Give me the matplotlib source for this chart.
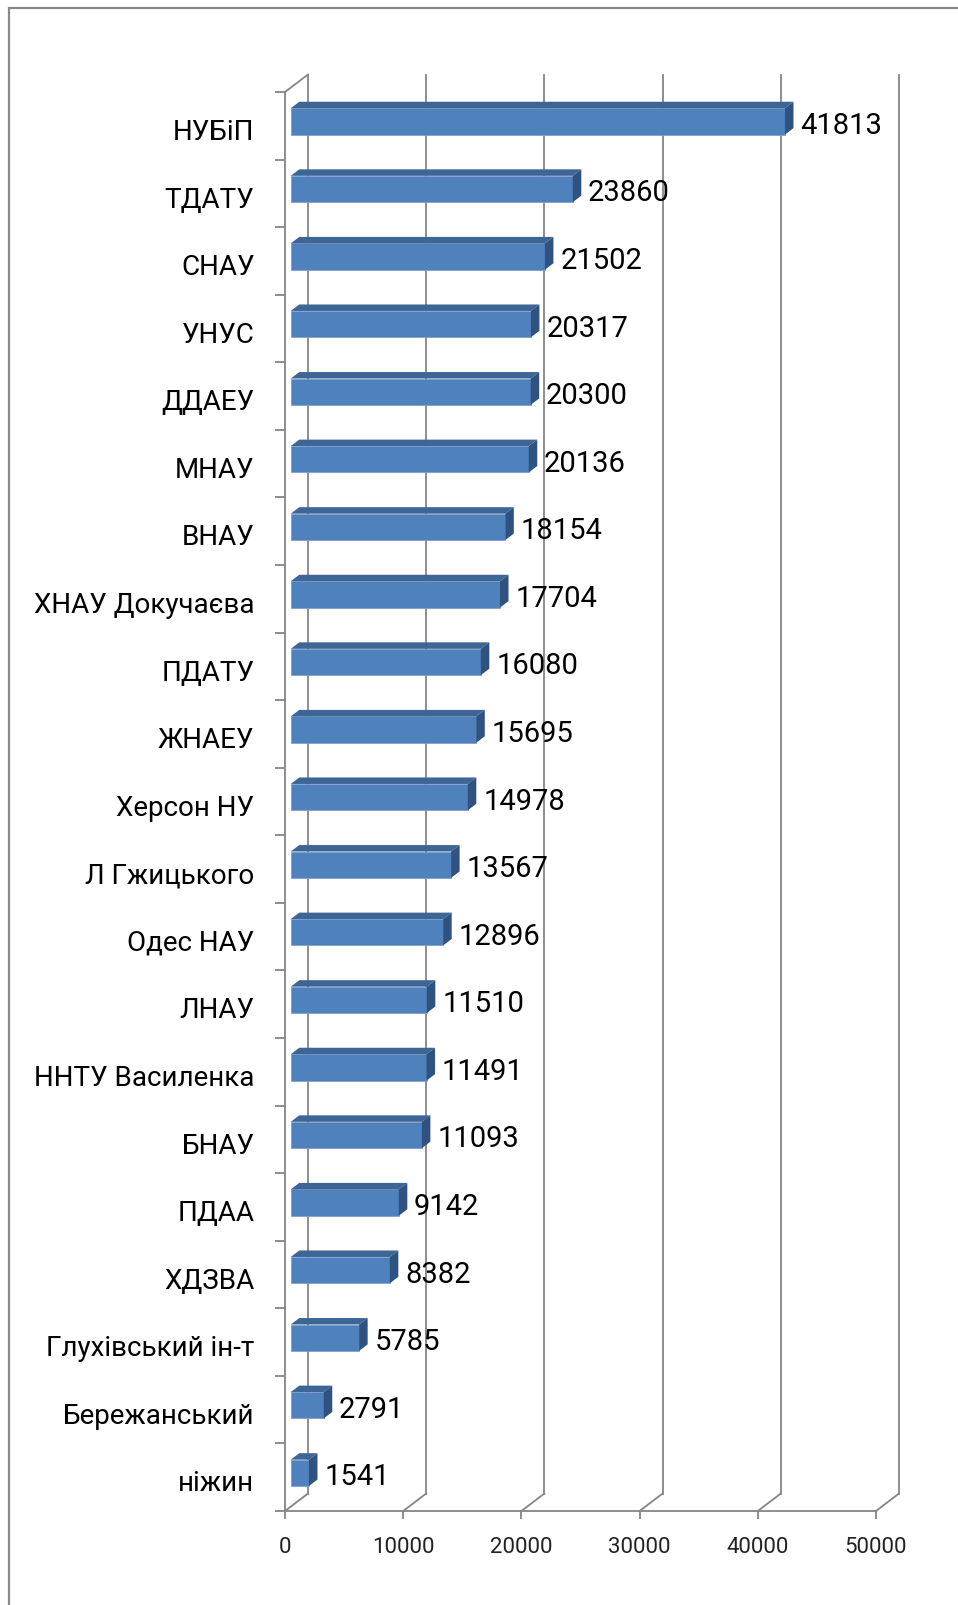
import numpy as np
import matplotlib.pyplot as plt
import matplotlib.transforms as mtransforms
from matplotlib.patches import Polygon, Rectangle

# data
categories = ["НУБіП", "ТДАТУ", "СНАУ", "УНУС", "ДДАЕУ", "МНАУ", "ВНАУ",
              "ХНАУ Докучаєва", "ПДАТУ", "ЖНАЕУ", "Херсон НУ", "Л Гжицького",
              "Одес НАУ", "ЛНАУ", "ННТУ Василенка", "БНАУ", "ПДАА", "ХДЗВА",
              "Глухівський ін-т", "Бережанський", "ніжин"]
values = [41813, 23860, 21502, 20317, 20300, 20136, 18154, 17704, 16080, 15695,
          14978, 13567, 12896, 11510, 11491, 11093, 9142, 8382, 5785, 2791, 1541]
x_ticks = [0, 10000, 20000, 30000, 40000, 50000]

plt.rcParams['font.family'] = ['Roboto', 'DejaVu Sans']

W, H, DPI = 958, 1606, 100
fig = plt.figure(figsize=(W / DPI, H / DPI), dpi=DPI)

# front plane of the 3-D box, in pixels
left, right, top, bottom = 285, 876, 93, 1512
ax = fig.add_axes([left / W, 1 - bottom / H, (right - left) / W, (bottom - top) / H])
n = len(categories)
xmax = x_ticks[-1]
ax.set_xlim(0, xmax)
ax.set_ylim(n - 0.5, -0.5)

# depth of the box, converted from pixels to data units
ddx = 23 / ((right - left) / xmax)
ddy = -17.5 / ((bottom - top) / n)

grid_c = '#858585'
glw = 1.3

# back wall gridlines + floor diagonals
for t in x_ticks:
    ax.plot([t + ddx, t + ddx], [n - 0.5 + ddy, -0.5 + ddy], color=grid_c, lw=glw, clip_on=False, zorder=1)
    ax.plot([t, t + ddx], [n - 0.5, n - 0.5 + ddy], color=grid_c, lw=glw, clip_on=False, zorder=1)
# left wall top edge
ax.plot([0, ddx], [-0.5, -0.5 + ddy], color=grid_c, lw=glw, clip_on=False, zorder=1)

# 3-D bars
h = 0.39
f1, f2 = 0.25, 0.62
front_c, top_c, side_c = '#4F81BD', '#3D6596', '#2F5280'
for i, v in enumerate(values):
    y0 = i - h / 2
    ax.add_patch(Rectangle((f1 * ddx, y0 + f1 * ddy), v, h, facecolor=front_c,
                           edgecolor='#7FA1CE', lw=0.6, zorder=3, clip_on=False))
    ax.add_patch(Polygon([(f1 * ddx, y0 + f1 * ddy), (v + f1 * ddx, y0 + f1 * ddy),
                          (v + f2 * ddx, y0 + f2 * ddy), (f2 * ddx, y0 + f2 * ddy)],
                         closed=True, facecolor=top_c, edgecolor='none', zorder=3, clip_on=False))
    ax.add_patch(Polygon([(v + f1 * ddx, y0 + f1 * ddy), (v + f2 * ddx, y0 + f2 * ddy),
                          (v + f2 * ddx, y0 + h + f2 * ddy), (v + f1 * ddx, y0 + h + f1 * ddy)],
                         closed=True, facecolor=side_c, edgecolor='none', zorder=3, clip_on=False))
    ax.annotate(f"{v}", xy=(v + f1 * ddx, i + f1 * ddy), xytext=(11, -2.5),
                textcoords='offset points', ha='left', va='center',
                fontsize=21, color='black', zorder=5, annotation_clip=False)

# axes
ax.set_yticks(range(n))
ax.set_yticklabels(categories)
ax.set_yticks(np.arange(-0.5, n, 1), minor=True)
ax.tick_params(axis='y', which='major', length=0, pad=22, labelsize=20, labelcolor='black')
ax.tick_params(axis='y', which='minor', length=7, width=glw, color=grid_c)
shift_down = mtransforms.ScaledTranslation(0, -2 / 72, fig.dpi_scale_trans)
for lab in ax.get_yticklabels():
    lab.set_transform(lab.get_transform() + shift_down)
ax.set_xticks(x_ticks)
ax.set_xticklabels([str(t) for t in x_ticks])
ax.tick_params(axis='x', length=6, width=glw, color=grid_c, pad=12, labelsize=16, labelcolor='#222222')

for s in ['top', 'right']:
    ax.spines[s].set_visible(False)
for s in ['left', 'bottom']:
    ax.spines[s].set_color(grid_c)
    ax.spines[s].set_linewidth(glw)
ax.set_facecolor('none')

# chart area border (runs off the right and bottom edge)
fig.add_artist(Rectangle((9 / W, -0.1), 1.2, 1.1 - 9 / H, transform=fig.transFigure,
                         fill=False, edgecolor='#898989', lw=1.6))

fig.savefig('out.png', dpi=DPI)
